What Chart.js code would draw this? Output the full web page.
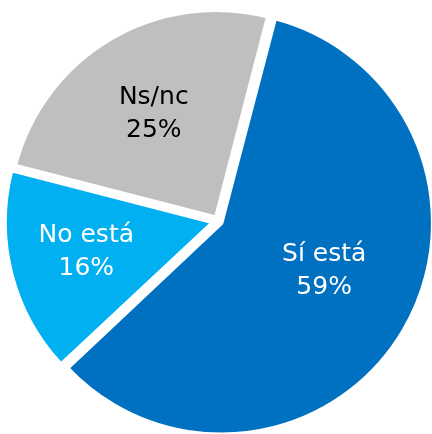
<!DOCTYPE html>
<html>
<head>
<meta charset="utf-8">
<script src="https://cdn.jsdelivr.net/npm/chart.js@4.4.1/dist/chart.umd.min.js"></script>
<style>
  html, body { margin: 0; padding: 0; background: #ffffff; }
  #wrap { width: 432px; height: 434px; position: relative; }
</style>
</head>
<body>
<div id="wrap"><canvas id="c"></canvas></div>
<script>
const categories = ['Sí está', 'No está', 'Ns/nc'];
const values = [59, 16, 25];
const valueLabels = ['59%', '16%', '25%'];

const sliceColors = ['#0070C0', '#00B0F0', '#BFBFBF'];
const textColors = ['#FFFFFF', '#FFFFFF', '#000000'];
// label placement: [radius fraction, angle nudge in degrees]
const labelPlacement = [[0.56, -6.7], [0.65, 1.9], [0.61, 0]];

const sliceLabels = {
  id: 'sliceLabels',
  afterDatasetsDraw(chart) {
    const ctx = chart.ctx;
    const meta = chart.getDatasetMeta(0);
    ctx.save();
    ctx.font = '25px "DejaVu Sans", sans-serif';
    ctx.textAlign = 'center';
    ctx.textBaseline = 'middle';
    meta.data.forEach((arc, i) => {
      const p = arc.getProps(['x', 'y', 'startAngle', 'endAngle', 'outerRadius'], true);
      const mid = (p.startAngle + p.endAngle) / 2 + labelPlacement[i][1] * Math.PI / 180;
      const r = p.outerRadius * labelPlacement[i][0];
      const x = p.x + Math.cos(mid) * r;
      const y = p.y + Math.sin(mid) * r + 2.5;
      ctx.fillStyle = textColors[i];
      ctx.fillText(categories[i], x, y - 16.5);
      ctx.fillText(valueLabels[i], x, y + 16.5);
    });
    ctx.restore();
  }
};

new Chart(document.getElementById('c'), {
  type: 'pie',
  data: {
    labels: categories,
    datasets: [{
      data: values,
      backgroundColor: sliceColors,
      borderColor: '#FFFFFF',
      borderWidth: 4,
      offset: [16, 20, 16]
    }]
  },
  options: {
    responsive: true,
    maintainAspectRatio: false,
    animation: false,
    rotation: 14.5,
    radius: 207.5,
    layout: { padding: { left: 4, right: 0, top: 8, bottom: 0 } },
    plugins: {
      legend: { display: false },
      tooltip: { enabled: false }
    }
  },
  plugins: [sliceLabels]
});
</script>
</body>
</html>
